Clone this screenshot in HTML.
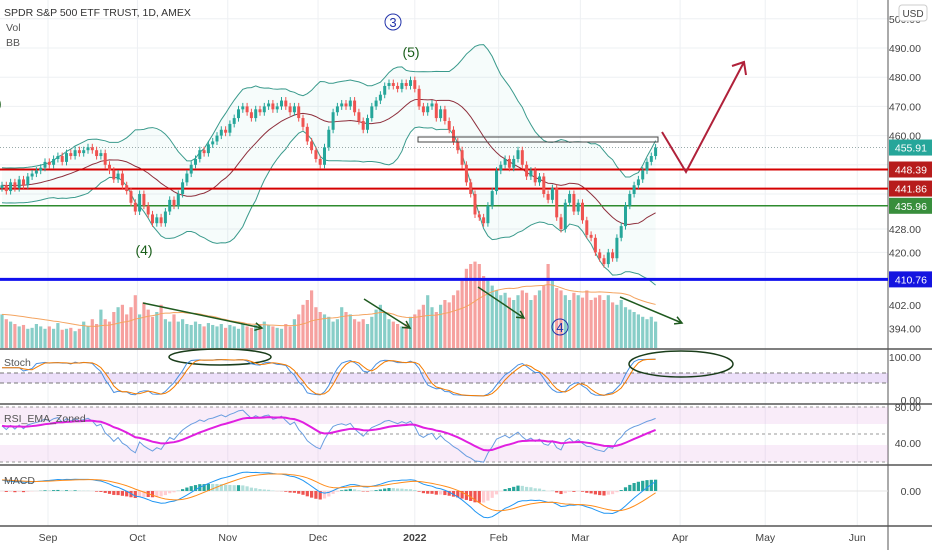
<!DOCTYPE html>
<html><head><meta charset="utf-8"><style>
html,body{margin:0;padding:0;background:#fff;width:932px;height:550px;overflow:hidden}
svg{display:block;font-family:"Liberation Sans",sans-serif}
</style></head><body>
<svg id="c" width="932" height="550"></svg>
<script>
const closes=[443,441,444,442,445,443,446,447,448,449,
451,450,452,453,451,454,453,455,454,455,
456,455,453,454,450,448,445,447,443,441,
437,434,440,436,433,430,432,430,434,438,
436,440,444,447,450,452,455,454,457,458,
460,462,461,464,466,469,470,468,466,469,
468,470,471,469,470,472,470,468,470,466,
463,458,455,452,450,456,462,468,470,471,
470,472,468,465,462,466,470,472,474,477,
478,477,476,478,477,479,476,470,468,470,
471,466,469,465,462,458,455,450,444,440,
433,432,430,436,441,448,450,452,449,452,
455,450,446,448,444,446,440,438,442,432,
428,437,440,434,437,431,426,425,420,418,
416,420,418,425,429,436,440,443,445,448,
451,453,455.91];
const volumes=[70,60,55,50,45,48,40,42,50,45,
40,45,40,52,38,40,42,35,40,55,
45,60,50,80,60,55,75,85,90,70,
85,110,70,95,80,65,75,90,60,55,
70,55,60,50,48,55,50,45,52,48,
45,50,42,48,45,40,50,45,42,48,
50,55,48,45,42,40,50,45,60,70,
90,100,120,85,75,70,65,55,60,85,
75,70,60,55,60,50,65,80,90,75,
60,55,50,45,50,65,70,80,90,110,
85,75,90,100,95,110,120,140,165,175,
180,175,150,140,130,120,110,115,105,100,
110,120,115,100,110,120,130,175,140,125,
120,110,100,115,110,105,120,100,105,110,
100,110,95,90,100,85,80,75,70,65,
60,65,55];
const priceTicks=[500,490,480,470,460,428,420,402,394];
const monthLabels=["Sep","Oct","Nov","Dec","2022","Feb","Mar","Apr","May","Jun"];
const monthIdx=[10.7,31.5,52.5,73.5,96,115.5,134.5,157.7,177.5,198.9];
const levels=[448.39,441.86,435.96,410.76];
const lastPrice=455.91;

const S=document.getElementById('c');const NS='http://www.w3.org/2000/svg';
function mk(t,a,p){const e=document.createElementNS(NS,t);for(const k in a)e.setAttribute(k,a[k]);(p||S).appendChild(e);return e;}
const xb=i=>2+4.3*i;
const yp=p=>48+(490-p)*2.92;
const yv=v=>348-v*0.48;
const ys=v=>397-v*0.39;
const yr=v=>443-(v-40)*0.9;
const ym=v=>491-v*2.8;
const PW=888;
monthIdx.forEach(m=>{const l=mk('line',{x1:xb(m),x2:xb(m),y1:0,y2:526,stroke:'#eef0f3'});});
[500,490,480,470,460,450,440,428,420].forEach(p=>{const l=mk('line',{x1:0,x2:PW,y1:yp(p),y2:yp(p),stroke:'#eef0f3'});});
[349,404,465,526].forEach(y=>{const l=mk('line',{x1:0,x2:932,y1:y,y2:y,stroke:'#555','stroke-width':1.5});});
const ax=mk('line',{x1:PW,x2:PW,y1:0,y2:550,stroke:'#555'});
function sma(a,n,i){let s=0;for(let k=i-n+1;k<=i;k++)s+=a[Math.max(k,0)];return s/n;}
let up=[],lo=[],mid=[];
for(let i=0;i<closes.length;i++){const m=sma(closes,20,i);let v=0;for(let k=i-19;k<=i;k++){const d=closes[Math.max(k,0)]-m;v+=d*d;}const sd=Math.max(Math.sqrt(v/20),3);mid.push(m);up.push(m+2*sd);lo.push(m-2*sd);}
const ptsU=up.map((v,i)=>xb(i)+','+yp(v)),ptsL=lo.map((v,i)=>xb(i)+','+yp(v));
const bf=mk('polygon',{points:ptsU.concat(ptsL.slice().reverse()).join(' '),fill:'rgba(38,166,154,0.04)'});
const bu=mk('polyline',{points:ptsU.join(' '),fill:'none',stroke:'#3a9a8c','stroke-width':1});
const bl=mk('polyline',{points:ptsL.join(' '),fill:'none',stroke:'#3a9a8c','stroke-width':1});
const bm=mk('polyline',{points:mid.map((v,i)=>xb(i)+','+yp(v)).join(' '),fill:'none',stroke:'#8e2f3c','stroke-width':1});
volumes.forEach((v,i)=>{const o=i?closes[i-1]:closes[0];const g=closes[i]>=o;const r=mk('rect',{x:xb(i)-1.6,y:yv(v),width:3.2,height:348-yv(v),fill:g?'rgba(38,166,154,0.55)':'rgba(239,83,80,0.55)'});});
const vm=[];volumes.forEach((v,i)=>vm.push(sma(volumes,20,i)));
const vml=mk('polyline',{points:vm.map((v,i)=>xb(i)+','+yv(v)).join(' '),fill:'none',stroke:'#f4a460','stroke-width':1});
const lvColors=['#d50000','#d50000','#2e8b2e','#1010ee'],lvBg=['#b71c1c','#b71c1c','#388e3c','#1414e0'],lvW=[2,2,1.5,3];
levels.forEach((p,k)=>{const l=mk('line',{x1:0,x2:PW,y1:yp(p),y2:yp(p),stroke:lvColors[k],'stroke-width':lvW[k]});});
const dl=mk('line',{x1:0,x2:PW,y1:yp(lastPrice),y2:yp(lastPrice),stroke:'#9aa','stroke-dasharray':'1,2'});
closes.forEach((c,i)=>{const o=i?closes[i-1]:c-1;const g=c>=o;const col=g?'#26a69a':'#ef5350';const hi=Math.max(o,c)+1.2,lw=Math.min(o,c)-1.2;
const w=mk('line',{x1:xb(i),x2:xb(i),y1:yp(hi),y2:yp(lw),stroke:col});
const b=mk('rect',{x:xb(i)-1.5,y:yp(Math.max(o,c)),width:3,height:Math.max(1,Math.abs(yp(o)-yp(c))),fill:col});});
const rc=mk('rect',{x:418,y:137,width:240,height:5,fill:'none',stroke:'#444'});
const pa=mk('polyline',{points:'662,132 686,172 744,62',fill:'none',stroke:'#b0213a','stroke-width':2});
const ph=mk('polyline',{points:'732,66 744,62 746,75',fill:'none',stroke:'#b0213a','stroke-width':2});
[[143,303,262,328],[364,299,410,328],[478,287,524,318],[620,297,682,323]].forEach(a=>{const l=mk('line',{x1:a[0],y1:a[1],x2:a[2],y2:a[3],stroke:'#1f5a1f','stroke-width':1.5});
const ang=Math.atan2(a[3]-a[1],a[2]-a[0]);const h=mk('polyline',{points:(a[2]-8*Math.cos(ang-0.5))+','+(a[3]-8*Math.sin(ang-0.5))+' '+a[2]+','+a[3]+' '+(a[2]-8*Math.cos(ang+0.5))+','+(a[3]-8*Math.sin(ang+0.5)),fill:'none',stroke:'#1f5a1f','stroke-width':1.5});});
function txt(x,y,s,a,name){const t=mk('text',Object.assign({x:x,y:y},a));t.textContent=s;return t;}
const c3=mk('circle',{cx:393,cy:22,r:8,fill:'none',stroke:'#2233aa'});
txt(393,27,'3',{'font-size':13,fill:'#2233aa','text-anchor':'middle'},'wave-3-label');
const c4=mk('circle',{cx:560,cy:327,r:8,fill:'none',stroke:'#2233aa'});
txt(560,332,'4',{'font-size':13,fill:'#2233aa','text-anchor':'middle'},'wave-4-label');
txt(411,57,'(5)',{'font-size':14,fill:'#1a5e1a','text-anchor':'middle'},'wave-5-label');
txt(144,255,'(4)',{'font-size':14,fill:'#1a5e1a','text-anchor':'middle'},'wave-4-minor-label');
txt(-3,108,')',{'font-size':14,fill:'#1a5e1a'},'wave-partial-label');
txt(4,16,'SPDR S&P 500 ETF TRUST, 1D, AMEX',{'font-size':10.5,fill:'#333'},'chart-title');
txt(6,31,'Vol',{'font-size':10.5,fill:'#555'},'vol-legend');
txt(6,46,'BB',{'font-size':10.5,fill:'#555'},'bb-legend');
const e1=mk('ellipse',{cx:220,cy:357,rx:51,ry:8,fill:'none',stroke:'#1a3d1a','stroke-width':1.5});
const sb=mk('rect',{x:0,y:373,width:PW,height:10,fill:'rgba(150,80,220,0.18)'});
[373,383].forEach(y=>{const l=mk('line',{x1:0,x2:PW,y1:y,y2:y,stroke:'#777','stroke-dasharray':'4,3'});});
let raw=[];closes.forEach((c,i)=>{let h=-1e9,l=1e9;for(let k=Math.max(0,i-13);k<=i;k++){h=Math.max(h,closes[k]+1.2);l=Math.min(l,closes[k]-1.2);}raw.push(i<5?75:(c-l)/(h-l)*100);});
const K=raw.map((v,i)=>sma(raw,3,i)),D=K.map((v,i)=>sma(K,3,i));
const sk=mk('polyline',{points:K.map((v,i)=>xb(i)+','+ys(v)).join(' '),fill:'none',stroke:'#4a90e2','stroke-width':1});
const sd=mk('polyline',{points:D.map((v,i)=>xb(i)+','+ys(v)).join(' '),fill:'none',stroke:'#f57c00','stroke-width':1});
const e2=mk('ellipse',{cx:681,cy:364,rx:52,ry:13,fill:'none',stroke:'#1a3d1a','stroke-width':1.5});
txt(4,366,'Stoch',{'font-size':10.5,fill:'#555'},'stoch-legend');
[[407,424],[445,462]].forEach(b=>{const r=mk('rect',{x:0,y:b[0],width:PW,height:b[1]-b[0],fill:'rgba(220,150,220,0.18)'});});
[407,434,462].forEach(y=>{const l=mk('line',{x1:0,x2:PW,y1:y,y2:y,stroke:'#999','stroke-dasharray':'3,3'});});
let rsi=[],ag=1.3,al=0.9;closes.forEach((c,i)=>{const d=i?c-closes[i-1]:0;ag=(ag*13+Math.max(d,0))/14;al=(al*13+Math.max(-d,0))/14;rsi.push(100-100/(1+ag/al));});
let re=[],e=rsi[0];rsi.forEach(v=>{e=e+(v-e)*2/15;re.push(e);});
const rl=mk('polyline',{points:rsi.map((v,i)=>xb(i)+','+yr(v)).join(' '),fill:'none',stroke:'#6a9ee0','stroke-width':1});
const rel=mk('polyline',{points:re.map((v,i)=>xb(i)+','+yr(v)).join(' '),fill:'none',stroke:'#e020e0','stroke-width':2});
txt(4,422,'RSI_EMA_Zoned',{'font-size':10.5,fill:'#555'},'rsi-legend');
function ema(a,n,s){let r=[],v=s;a.forEach(x=>{v=v+(x-v)*2/(n+1);r.push(v);});return r;}
const e12=ema(closes,12,closes[0]-2),e26=ema(closes,26,closes[0]-6),mac=e12.map((v,i)=>v-e26[i]),sig=ema(mac,9,4);
const z=mk('line',{x1:0,x2:PW,y1:ym(0),y2:ym(0),stroke:'#e4e4e4'});
mac.forEach((m,i)=>{const h=m-sig[i],hp=i?mac[i-1]-sig[i-1]:h;const col=h>=0?(h>=hp?'#26a69a':'#b2dfdb'):(h<hp?'#ef5350':'#ffcdd2');const r=mk('rect',{x:xb(i)-1.6,y:Math.min(ym(0),ym(h)),width:3.2,height:Math.abs(ym(h)-ym(0)),fill:col});});
const ml=mk('polyline',{points:mac.map((v,i)=>xb(i)+','+ym(v)).join(' '),fill:'none',stroke:'#2196f3','stroke-width':1});
const sl=mk('polyline',{points:sig.map((v,i)=>xb(i)+','+ym(v)).join(' '),fill:'none',stroke:'#ff8c1a','stroke-width':1});
txt(4,484,'MACD',{'font-size':10.5,fill:'#555'},'macd-legend');
priceTicks.forEach(p=>txt(921,yp(p)+4,p.toFixed(2),{'font-size':10.5,fill:'#444','text-anchor':'end'},'price-tick'));
txt(921,361,'100.00',{'font-size':10.5,fill:'#444','text-anchor':'end'},'stoch-tick');
txt(921,404,'0.00',{'font-size':10.5,fill:'#444','text-anchor':'end'},'stoch-tick');
txt(921,411,'80.00',{'font-size':10.5,fill:'#444','text-anchor':'end'},'rsi-tick');
txt(921,447,'40.00',{'font-size':10.5,fill:'#444','text-anchor':'end'},'rsi-tick');
txt(921,495,'0.00',{'font-size':10.5,fill:'#444','text-anchor':'end'},'macd-tick');
const ub=mk('rect',{x:899,y:5,width:28,height:16,rx:3,fill:'#fff',stroke:'#ccc'});
txt(913,17,'USD',{'font-size':10,fill:'#444','text-anchor':'middle'},'currency-label');
const allTags=[lastPrice].concat(levels),tagBg=['#26a69a'].concat(lvBg);
allTags.forEach((p,k)=>{const r=mk('rect',{x:889,y:yp(p)-8,width:43,height:16,fill:tagBg[k]});txt(927,yp(p)+4,p.toFixed(2),{'font-size':10.5,fill:'#fff','text-anchor':'end'},'price-tag-label');});
monthLabels.forEach((m,k)=>txt(xb(monthIdx[k]),541,m,{'font-size':10.5,fill:'#444','text-anchor':'middle','font-weight':m==='2022'?'bold':'normal'},'date-tick'));
</script>
</body></html>
